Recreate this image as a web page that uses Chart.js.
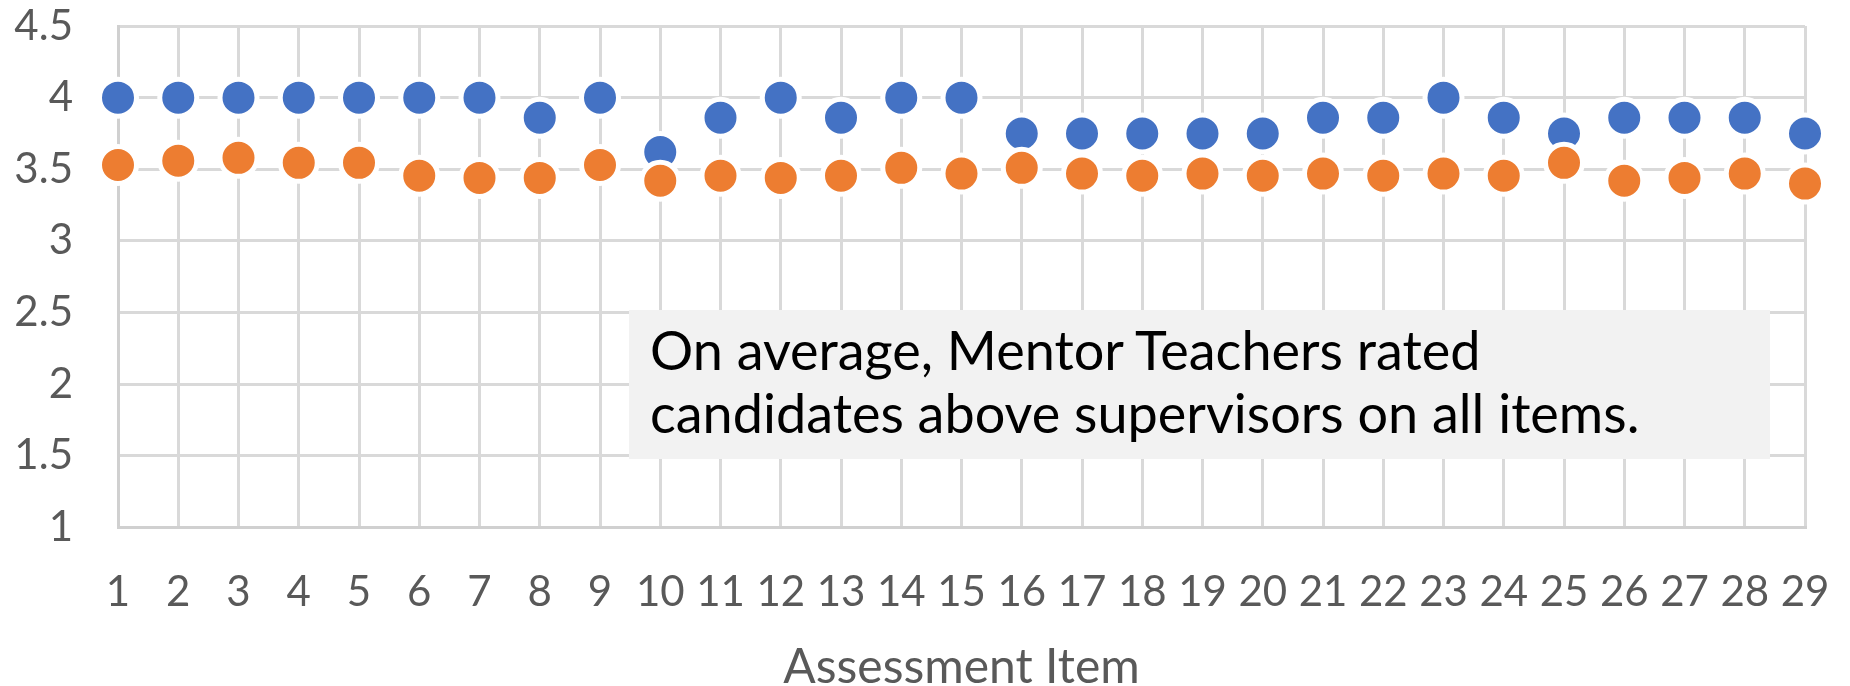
<!DOCTYPE html>
<html>
<head>
<meta charset="utf-8">
<script src="https://cdn.jsdelivr.net/npm/chart.js@4.4.1/dist/chart.umd.min.js"></script>
<style>
  html, body { margin: 0; padding: 0; background: #ffffff; }
  #wrap { position: relative; width: 1850px; height: 686px; overflow: hidden; }
  #note {
    position: absolute; left: 629px; top: 310px; width: 1141px; height: 149px;
    background: #f2f2f2; box-sizing: border-box; padding: 8px 0 0 21px;
    font-family: Lato, "Open Sans", sans-serif; font-size: 54px; line-height: 63px; color: #000;
    white-space: nowrap;
  }
</style>
</head>
<body>
<div id="wrap">
  <canvas id="c" width="1850" height="686"></canvas>
  <div id="note">On average, Mentor Teachers rated<br>candidates above supervisors on all items.</div>
</div>
<script>
const categories = ['1','2','3','4','5','6','7','8','9','10','11','12','13','14','15','16','17','18','19','20','21','22','23','24','25','26','27','28','29'];
const mentorTeachers = [4.0,4.0,4.0,4.0,4.0,4.0,4.0,3.86,4.0,3.62,3.86,4.0,3.86,4.0,4.0,3.75,3.75,3.75,3.75,3.75,3.86,3.86,4.0,3.86,3.75,3.86,3.86,3.86,3.75];
const supervisors = [3.53,3.56,3.58,3.545,3.545,3.455,3.44,3.44,3.53,3.42,3.455,3.44,3.455,3.51,3.47,3.51,3.47,3.455,3.47,3.455,3.47,3.455,3.47,3.455,3.545,3.42,3.44,3.47,3.40];
const yTickValues = [1, 1.5, 2, 2.5, 3, 3.5, 4, 4.5];
const yTickLabels = ['1', '1.5', '2', '2.5', '3', '3.5', '4', '4.5'];
const xAxisTitle = 'Assessment Item';

const gridColor = '#d9d9d9';
const labelColor = '#595959';
const fontFamily = 'Lato, "Open Sans", sans-serif';

const pointStyle = (color) => ({
  showLine: false,
  pointRadius: 18.5,
  pointHoverRadius: 18.5,
  pointBackgroundColor: color,
  pointBorderColor: '#ffffff',
  pointBorderWidth: 5,
  borderColor: color,
  backgroundColor: color
});

new Chart(document.getElementById('c'), {
  type: 'line',
  data: {
    labels: categories,
    datasets: [
      Object.assign({ label: 'Mentor Teachers', data: mentorTeachers, order: 1 }, pointStyle('#4472c4')),
      Object.assign({ label: 'Supervisors', data: supervisors, order: 0 }, pointStyle('#ed7d31'))
    ]
  },
  options: {
    responsive: false,
    animation: false,
    devicePixelRatio: 1,
    clip: false,
    layout: { padding: { left: 0, top: 26, right: 45, bottom: 0 } },
    plugins: { legend: { display: false }, tooltip: { enabled: false }, title: { display: false } },
    scales: {
      x: {
        type: 'category',
        offset: false,
        grid: { color: gridColor, lineWidth: 3, drawTicks: false },
        border: { color: '#d0d0d0', width: 3 },
        ticks: {
          color: labelColor, autoSkip: false, maxRotation: 0, minRotation: 0, padding: 40,
          font: { family: fontFamily, size: 42 }
        },
        title: {
          display: true, text: xAxisTitle, color: labelColor,
          font: { family: fontFamily, size: 48, lineHeight: 0.75 },
          padding: { top: 0, bottom: 0 }
        },
        afterFit: (s) => { s.height = 686 - 527.5; s.paddingLeft = 0; s.paddingRight = 0; }
      },
      y: {
        min: 1, max: 4.5,
        grid: { color: gridColor, lineWidth: 3, drawTicks: false },
        border: { color: '#d0d0d0', width: 3 },
        afterBuildTicks: (s) => { s.ticks = yTickValues.map(v => ({ value: v })); },
        ticks: {
          color: labelColor, padding: 45,
          font: { family: fontFamily, size: 42 },
          callback: (v) => yTickLabels[yTickValues.indexOf(v)]
        },
        afterFit: (s) => { s.width = 118; s.paddingTop = 0; s.paddingBottom = 0; }
      }
    }
  }
});
</script>
</body>
</html>
